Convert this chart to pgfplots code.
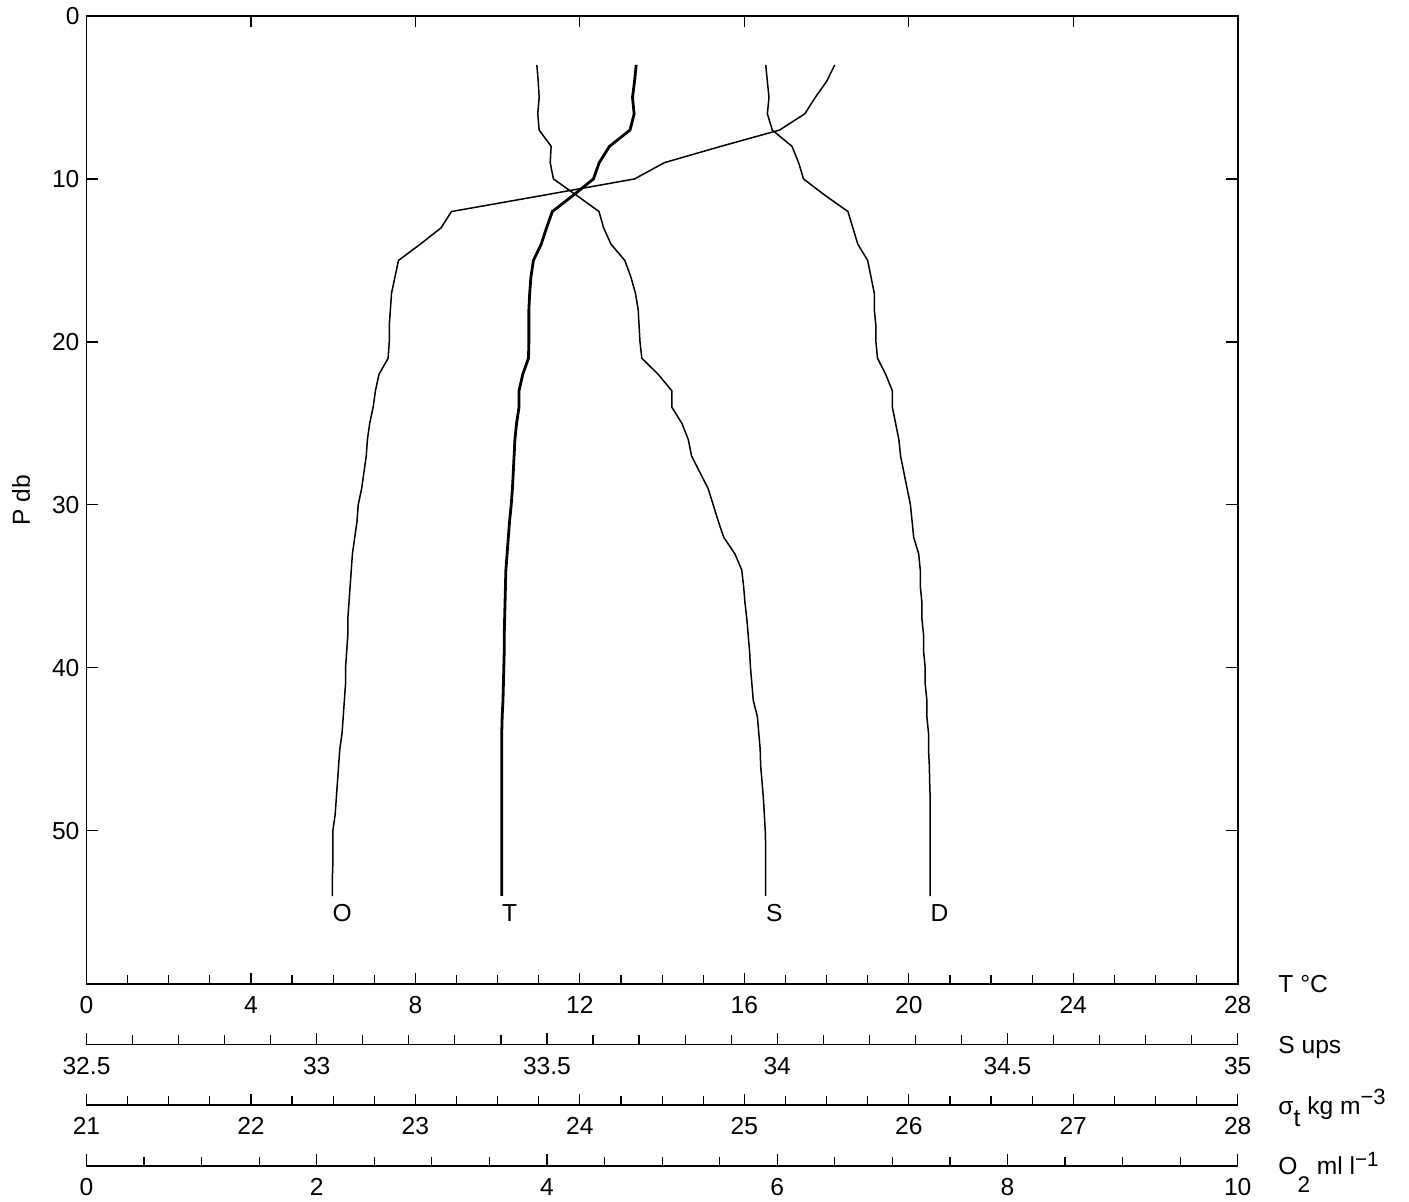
\documentclass[border=0pt]{standalone}
\usepackage{fontspec}
\setmainfont{Liberation Sans}
\usepackage{pgfplots}
\pgfplotsset{compat=1.18}
\usepackage{pgfplotstable}

% CTD cast: pressure (db), temperature (deg C), salinity, sigma-t, oxygen (ml/l)
\pgfplotstableread{
P  T     S       D       O
3  13.37 33.478  25.13   6.50
4  13.33 33.481  25.14   6.43
5  13.28 33.483  25.15   6.33
6  13.32 33.480  25.14   6.24
7  13.22 33.483  25.17   6.02
8  12.72 33.509  25.29   5.51
9  12.47 33.507  25.33   5.02
10 12.33 33.514  25.36   4.76
11 11.84 33.564  25.49   3.97
12 11.33 33.613  25.63   3.17
13 11.19 33.623  25.66   3.08
14 11.06 33.639  25.69   2.90
15 10.87 33.669  25.75   2.71
16 10.81 33.682  25.77   2.68
17 10.78 33.692  25.79   2.65
18 10.76 33.698  25.79   2.64
19 10.76 33.700  25.80   2.63
20 10.76 33.702  25.80   2.63
21 10.75 33.706  25.81   2.62
22 10.61 33.742  25.86   2.54
23 10.52 33.771  25.90   2.51
24 10.52 33.771  25.90   2.49
25 10.46 33.793  25.92   2.46
26 10.42 33.807  25.94   2.44
27 10.40 33.814  25.95   2.43
28 10.38 33.832  25.97   2.41
29 10.36 33.850  25.99   2.39
30 10.33 33.861  26.01   2.36
31 10.29 33.872  26.02   2.35
32 10.26 33.884  26.03   2.33
33 10.23 33.908  26.06   2.31
34 10.20 33.923  26.07   2.30
35 10.19 33.927  26.07   2.29
36 10.18 33.930  26.08   2.28
37 10.17 33.934  26.08   2.27
38 10.16 33.937  26.09   2.27
39 10.16 33.940  26.09   2.26
40 10.15 33.942  26.10   2.25
41 10.14 33.945  26.10   2.25
42 10.13 33.948  26.11   2.24
43 10.11 33.957  26.11   2.23
44 10.10 33.960  26.12   2.22
45 10.10 33.963  26.12   2.20
46 10.10 33.964  26.125  2.19
47 10.10 33.967  26.127  2.18
48 10.10 33.970  26.13   2.17
49 10.10 33.972  26.13   2.16
50 10.10 33.974  26.13   2.14
51 10.10 33.975  26.13   2.14
52 10.10 33.975  26.13   2.14
53 10.10 33.975  26.13   2.135
54 10.10 33.975  26.13   2.135
}\profile

\newcommand{\lab}{\fontsize{12.3}{14}\selectfont}

\tikzset{
  curve/.style={black, line width=0.75pt, line join=round},
  tag/.style={anchor=north west, inner sep=0pt, yshift=-4pt, font=\lab},
}

\pgfplotsset{
  profile base/.style={
    width=575.6pt, height=484pt, scale only axis,
    at={(0,0)}, anchor=south west,
    ymin=0, ymax=59.4, y dir=reverse,
    tick label style={font=\lab},
    xticklabel style={yshift=-2.8pt},
    /pgf/number format/assume math mode=true,
    major tick length=5.75pt, minor tick length=4.5pt,
    every tick/.style={black, line width=0.6pt},
    clip=false,
  },
  % a detached property scale drawn below the frame
  scale axis/.style={
    profile base,
    axis x line*=bottom, hide y axis,
    x axis line style={-, line width=0.8pt},
    xtick align=inside,
    axis x line shift=#1,
  },
}

\begin{document}
\begin{tikzpicture}
% temperature: main frame
\begin{axis}[profile base, name=main,
  xmin=0, xmax=28,
  xtick={0,4,...,28}, minor x tick num=3,
  xtick pos=left,
  ytick={0,10,...,50}, ytick pos=both,
  tick align=inside,
  axis line style={line width=0.8pt},
]
\addplot[black, line width=1.4pt, line join=round] table[x=T, y=P] {\profile};
\node[tag] at (axis cs:10.10,54) {T};
\end{axis}
% major ticks along the top edge
\begin{axis}[profile base,
  xmin=0, xmax=28, axis x line*=top, hide y axis,
  x axis line style={-, line width=0.8pt},
  xtick={4,8,...,24}, xticklabels={}, xtick align=inside,
]
\end{axis}
% salinity
\begin{axis}[scale axis=30.15pt,
  xmin=32.5, xmax=35,
  xtick={32.5,33,...,35}, minor x tick num=4,
]
\addplot[curve] table[x=S, y=P] {\profile};
\node[tag] at (axis cs:33.975,54) {S};
\end{axis}
% density
\begin{axis}[scale axis=60.5pt,
  xmin=21, xmax=28,
  xtick={21,...,28}, minor x tick num=3,
]
\addplot[curve] table[x=D, y=P] {\profile};
\node[tag] at (axis cs:26.13,54) {D};
\end{axis}
% oxygen
\begin{axis}[scale axis=90.85pt,
  xmin=0, xmax=10,
  xtick={0,2,...,10}, minor x tick num=3,
]
\addplot[curve] table[x=O, y=P] {\profile};
\node[tag] at (axis cs:2.135,54) {O};
\end{axis}

\node[rotate=90, font=\lab] at ([xshift=-32.75pt]main.west) {P db};
\begin{scope}[every node/.style={anchor=base west, inner sep=0pt, font=\lab}]
\node at ([xshift=20.15pt, yshift=-4.5pt]main.south east) {T °C};
\node at ([xshift=20.15pt, yshift=-34.85pt]main.south east) {S ups};
\node at ([xshift=20.15pt, yshift=-65.3pt]main.south east)
  {σ\raisebox{-5.8pt}{t} kg m\raisebox{5pt}{\fontsize{11}{11}\selectfont −3}};
\node at ([xshift=20.15pt, yshift=-95.5pt]main.south east)
  {O\raisebox{-9pt}{\fontsize{11.3}{11}\selectfont 2} ml l\raisebox{4.2pt}{\fontsize{10.3}{11}\selectfont −1}};
\end{scope}

\pgfresetboundingbox
\path[use as bounding box] (-43.25pt,-109pt) rectangle (661.25pt,492pt);
\end{tikzpicture}
\end{document}
